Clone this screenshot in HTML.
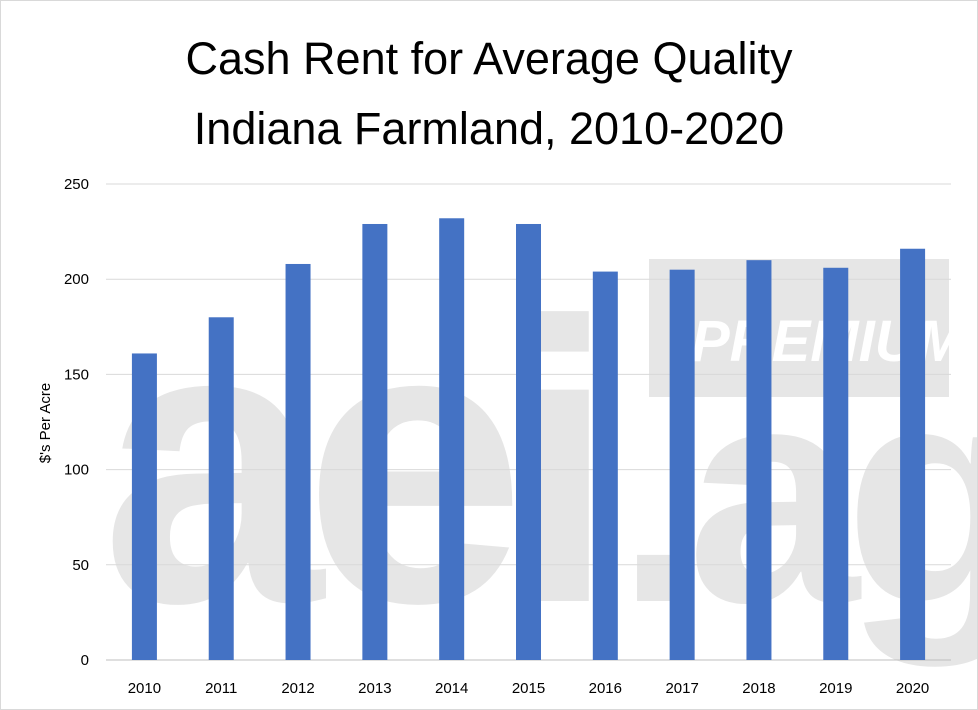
<!DOCTYPE html>
<html><head><meta charset="utf-8"><style>
html,body{margin:0;padding:0;background:#fff;}
#wrap{position:relative;width:976px;height:708px;border:1px solid #d9d9d9;background:#fff;overflow:hidden;font-family:"Liberation Sans",sans-serif;}
</style></head><body>
<div id="wrap">
<svg id="chart" width="976" height="708" xmlns="http://www.w3.org/2000/svg">
  <g fill="#e6e6e6" font-family="Liberation Sans, sans-serif" font-weight="bold">
    <text x="100" y="600" font-size="400" letter-spacing="-20">aei</text>
    <rect x="648" y="258" width="300" height="138"/>
    <text x="690" y="360" font-size="58" font-style="italic" fill="#fff">PREMIUM</text>
    <text x="615" y="600" font-size="310" letter-spacing="-15">.ag</text>
  </g>
  <text x="488" y="73" text-anchor="middle" font-size="45" fill="#000">Cash Rent for Average Quality</text>
  <text x="488" y="143" text-anchor="middle" font-size="45" fill="#000">Indiana Farmland, 2010-2020</text>
  <text transform="translate(49,422) rotate(-90)" text-anchor="middle" font-size="15" fill="#000">$'s Per Acre</text>
  <g id="grid"></g><g id="bars"></g><g id="labels"></g>
</svg>
</div>
<script>
const categories=["2010","2011","2012","2013","2014","2015","2016","2017","2018","2019","2020"];
const rentValues=[161,180,208,229,232,229,204,205,210,206,216];
const yTicks=[0,50,100,150,200,250];
const NS="http://www.w3.org/2000/svg";
const x0=105,x1=950,yBase=659,yTop=183,yMax=250;
function yScale(v){return yBase-(v/yMax)*(yBase-yTop);}
function xCenter(i){const w=(x1-x0)/categories.length;return x0+w*(i+0.5);}
const grid=document.getElementById('grid'),bars=document.getElementById('bars'),labels=document.getElementById('labels');
yTicks.forEach(t=>{
  const l=document.createElementNS(NS,'line');
  l.setAttribute('x1',x0);l.setAttribute('x2',x1);l.setAttribute('y1',yScale(t));l.setAttribute('y2',yScale(t));
  l.setAttribute('stroke',t===0?'#bfbfbf':'#d9d9d9');l.setAttribute('stroke-width','1');
  
  
  grid.appendChild(l);
  const tx=document.createElementNS(NS,'text');
  tx.setAttribute('x',88);tx.setAttribute('y',yScale(t)+5);tx.setAttribute('text-anchor','end');
  tx.setAttribute('font-size','15');tx.setAttribute('fill','#000');tx.textContent=t;
  
  
  labels.appendChild(tx);
});
categories.forEach((c,i)=>{
  const bw=25,cx=xCenter(i),y=yScale(rentValues[i]);
  const r=document.createElementNS(NS,'rect');
  r.setAttribute('x',cx-bw/2);r.setAttribute('y',y);r.setAttribute('width',bw);r.setAttribute('height',yBase-y);
  r.setAttribute('fill','#4472c4');
  
  
  bars.appendChild(r);
  const tx=document.createElementNS(NS,'text');
  tx.setAttribute('x',cx);tx.setAttribute('y',692);tx.setAttribute('text-anchor','middle');
  tx.setAttribute('font-size','15');tx.setAttribute('fill','#000');tx.textContent=c;
  
  
  labels.appendChild(tx);
});
</script>
</body></html>
